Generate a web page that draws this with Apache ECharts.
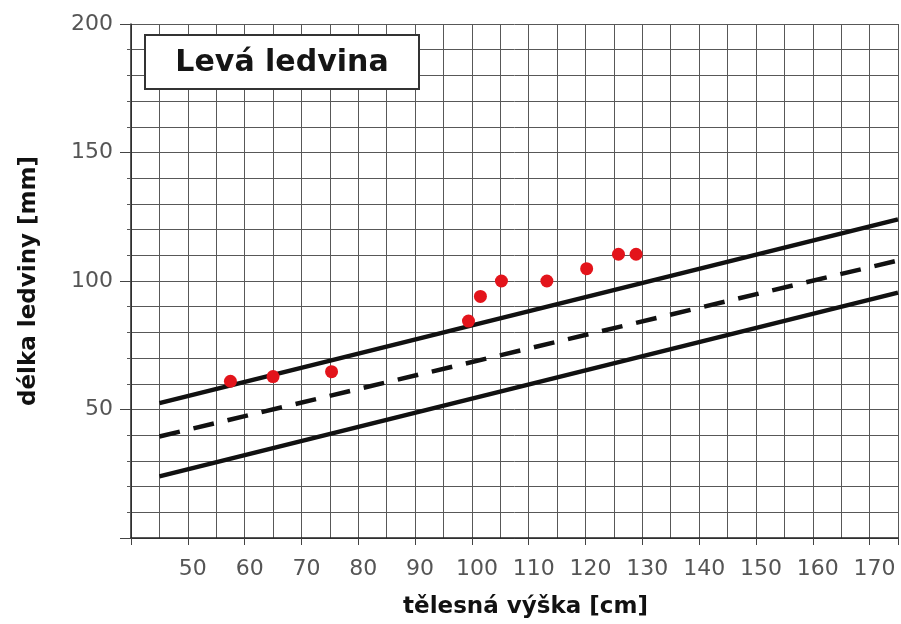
<!DOCTYPE html>
<html>
<head>
<meta charset="utf-8">
<script src="https://cdn.jsdelivr.net/npm/echarts@6/dist/echarts.min.js"></script>
<style>
  html, body { margin: 0; padding: 0; background: #ffffff; }
  #chart { width: 901px; height: 624px; }
</style>
</head>
<body>
<div id="chart"></div>
<script>
// Measured children: body height [cm] and left kidney length [mm]
const heightsCm = [57.5, 65, 75.3, 99.4, 101.5, 105.2, 113.2, 120.2, 125.8, 128.9];
const kidneyMm  = [61, 62.8, 64.7, 84.4, 94, 100, 100, 104.8, 110.4, 110.4];

// Reference band: upper limit, mean (dashed), lower limit
const upperBand = [[45, 52.5], [175, 124]];
const meanLine  = [[45, 39.5], [175, 108]];
const lowerBand = [[45, 24], [175, 95.5]];

// Labelled ticks
const xTickLabels = [50, 60, 70, 80, 90, 100, 110, 120, 130, 140, 150, 160, 170];
const yTickLabels = [50, 100, 150, 200];

const FONT = '"DejaVu Sans", sans-serif';
const GRID_COLOR = '#585858';

const chart = echarts.init(document.getElementById('chart'), null, { renderer: 'canvas' });

chart.setOption({
  animation: false,
  backgroundColor: '#ffffff',
  grid: { left: 131, right: 0, top: 24, bottom: 85, containLabel: false },
  xAxis: [
    {
      // fine 5 cm grid
      type: 'value', min: 40, max: 175, interval: 5,
      axisLine: { show: true, lineStyle: { color: '#222', width: 1.5 } },
      axisTick: { show: false },
      axisLabel: { show: false },
      splitLine: { show: true, lineStyle: { color: GRID_COLOR, width: 1 } }
    },
    {
      // labelled 10 cm ticks and axis title
      type: 'value', min: 40, max: 175, interval: 10, position: 'bottom',
      axisLine: { show: false },
      axisTick: { show: true, length: 7, lineStyle: { color: '#444', width: 1 } },
      axisLabel: {
        color: '#555', fontSize: 22, fontFamily: FONT, margin: 20,
        padding: [0, 0, 0, 10],
        formatter: v => (xTickLabels.includes(v) ? String(v) : '')
      },
      splitLine: { show: false },
      name: 'tělesná výška [cm]',
      nameLocation: 'middle',
      nameGap: 58,
      nameTextStyle: { color: '#111', fontSize: 23, fontWeight: 'bold', fontFamily: FONT, padding: [0, 0, 0, 22] }
    }
  ],
  yAxis: {
    type: 'value', min: 0, max: 200, interval: 50,
    axisLine: { show: true, lineStyle: { color: '#222', width: 1.5 } },
    axisTick: { show: true, length: 11, lineStyle: { color: '#444', width: 1 } },
    minorTick: { show: true, splitNumber: 5, length: 4, lineStyle: { color: GRID_COLOR } },
    axisLabel: {
      color: '#555', fontSize: 22, fontFamily: FONT, margin: 18,
      formatter: v => (yTickLabels.includes(v) ? String(v) : '')
    },
    splitLine: { show: true, lineStyle: { color: GRID_COLOR, width: 1 } },
    minorSplitLine: { show: true, lineStyle: { color: GRID_COLOR, width: 1 } },
    name: 'délka ledviny [mm]',
    nameLocation: 'middle',
    nameGap: 90,
    nameTextStyle: { color: '#111', fontSize: 23, fontWeight: 'bold', fontFamily: FONT }
  },
  series: [
    {
      type: 'line', xAxisIndex: 0, data: upperBand, symbol: 'none', silent: true, z: 2,
      lineStyle: { color: '#111', width: 4.5 }
    },
    {
      type: 'line', xAxisIndex: 0, data: meanLine, symbol: 'none', silent: true, z: 2,
      lineStyle: { color: '#111', width: 4.5, type: [21, 14] }
    },
    {
      type: 'line', xAxisIndex: 0, data: lowerBand, symbol: 'none', silent: true, z: 2,
      lineStyle: { color: '#111', width: 4.5 }
    },
    {
      type: 'scatter', xAxisIndex: 0, z: 3,
      data: heightsCm.map((h, i) => [h, kidneyMm[i]]),
      symbolSize: 13,
      itemStyle: { color: '#e3141b', opacity: 1 }
    }
  ],
  graphic: [
    {
      type: 'rect', z: 100, zlevel: 0,
      shape: { x: 145, y: 35, width: 274, height: 54 },
      style: { fill: '#ffffff', stroke: '#333', lineWidth: 2 }
    },
    {
      type: 'text', z: 101, zlevel: 0,
      style: {
        x: 282, y: 63, text: 'Levá ledvina',
        font: 'bold 30px "DejaVu Sans", sans-serif',
        fill: '#151515', align: 'center', verticalAlign: 'middle'
      }
    }
  ]
});
</script>
</body>
</html>
